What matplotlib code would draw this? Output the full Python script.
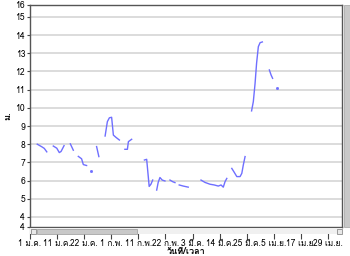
import matplotlib
matplotlib.use("Agg")
import matplotlib.pyplot as plt
from matplotlib.patches import Rectangle

# water level (m.) - gaps between segments are missing readings
segments_day = [
    [2.9, 4.7, 5.7, 6.7],
    [9.3, 10.7, 11.7, 12.4, 13.6],
    [16.1, 17.3],
    [19.3, 20.6, 21.3, 22.6],
    [24.4],
    [26.6, 27.5],
    [30.0, 30.9, 31.7, 32.6, 33.3, 34.3, 35.7],
    [37.9, 38.9, 39.3, 40.6],
    [45.7, 46.6, 47.6, 48.3, 49.0],
    [50.6, 51.2, 51.9, 52.8, 53.9],
    [55.9, 57.0, 57.9],
    [59.6, 61.2, 63.2],
    [68.3, 69.9, 71.9, 73.6, 75.2, 76.3, 77.2, 77.9, 78.6],
    [80.6, 81.6, 82.6, 83.9, 84.6, 85.2, 85.9],
    [88.5, 89.2, 89.9, 90.5, 91.2, 91.9, 92.8],
    [95.6, 96.3, 96.9],
    [98.8],
]
segments_level = [
    [8.0, 7.86, 7.77, 7.58],
    [7.9, 7.78, 7.54, 7.6, 7.92],
    [8.02, 7.67],
    [7.33, 7.2, 6.88, 6.83],
    [6.55],
    [7.87, 7.32],
    [8.45, 9.24, 9.45, 9.48, 8.5, 8.38, 8.23],
    [7.72, 7.72, 8.14, 8.27],
    [7.13, 7.17, 5.68, 5.8, 6.03],
    [5.48, 5.9, 6.17, 6.03, 5.98],
    [6.03, 5.94, 5.89],
    [5.76, 5.7, 5.64],
    [6.03, 5.9, 5.8, 5.76, 5.7, 5.76, 5.64, 5.94, 6.12],
    [6.67, 6.45, 6.22, 6.22, 6.4, 6.86, 7.32],
    [9.83, 10.34, 11.35, 12.45, 13.36, 13.58, 13.62],
    [12.08, 11.8, 11.62],
    [11.08],
]

x_labels = ["1 ม.ค.", "11 ม.ค.", "22 ม.ค.", "1 ก.พ.", "11 ก.พ.", "22 ก.พ.",
            "3 มี.ค.", "14 มี.ค.", "25 มี.ค.", "5 เม.ย.", "17 เม.ย.", "29 เม.ย."]
tick_step = 10.82
y_min, y_max = 3.45, 15.65
y_ticks = list(range(4, 16))

plt.rcParams['font.family'] = ['Loma', 'Noto Sans Thai UI', 'DejaVu Sans']

fig = plt.figure(figsize=(3.5, 2.56), dpi=100)
ax = fig.add_axes([30/350, 29/256, 312/350, 222/256])

for xs, ys in zip(segments_day, segments_level):
    if len(xs) == 1:
        ax.plot(xs, ys, marker='s', markersize=1.0, color='#6f6fff', linestyle='none')
    else:
        ax.plot(xs, ys, color='#6f6fff', linewidth=1.0)

ax.set_xlim(0, (312/27.09) * tick_step)
ax.set_ylim(y_min, y_max)

ax.set_xticks([i * tick_step for i in range(len(x_labels))])
ax.set_xticklabels(x_labels, fontsize=6)
ax.set_yticks([y_min] + y_ticks + [y_max])
ax.set_yticklabels(['4'] + [str(t) for t in y_ticks] + ['16'], fontsize=6.2)
ax.tick_params(axis='x', length=8.5, width=0.8, pad=0, color='#444444')
ax.tick_params(axis='y', length=2.5, width=0.8, pad=1, color='#444444')

for t in y_ticks:
    ax.axhline(t, color='#d9d9d9', linewidth=1.3, zorder=0)

for s in ax.spines.values():
    s.set_color('#555555')
    s.set_linewidth(1.0)

ax.set_ylabel('ม.', fontsize=6.5, fontweight='bold', va='center')
ax.yaxis.set_label_coords(-0.07, 0.5)
ax.set_xlabel('วันที่/เวลา', fontsize=6.5, fontweight='bold', va='center')
ax.xaxis.set_label_coords(0.5, -0.112)

# scrollbars
fig.patches.append(Rectangle((30/350, 22/256), 312/350, 6/256, transform=fig.transFigure,
                             facecolor='#f0f0f0', edgecolor='none', zorder=5))
fig.patches.append(Rectangle((37/350, 22.5/256), 100/350, 5/256, transform=fig.transFigure,
                             facecolor='#c8c8c8', edgecolor='#9a9a9a', linewidth=0.5, zorder=6))
fig.patches.append(Rectangle((30.5/350, 22.5/256), 5/350, 5/256, transform=fig.transFigure,
                             facecolor='#e8e8e8', edgecolor='#777777', linewidth=0.5, zorder=6))
fig.patches.append(Rectangle((336.5/350, 22.5/256), 5/350, 5/256, transform=fig.transFigure,
                             facecolor='#e8e8e8', edgecolor='#777777', linewidth=0.5, zorder=6))
fig.patches.append(Rectangle((344/350, 29/256), 6/350, 222/256, transform=fig.transFigure,
                             facecolor='#c8c8c8', edgecolor='#a0a0a0', linewidth=0.5, zorder=6))

fig.savefig('out.png', dpi=100)
